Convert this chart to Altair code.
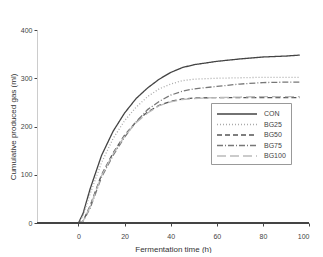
import altair as alt
import pandas as pd

hours = [0, 2, 5, 10, 15, 20, 25, 30, 35, 40, 45, 50, 60, 70, 80, 90, 96]
con   = [0, 20, 70, 140, 190, 228, 258, 280, 298, 312, 322, 328, 335, 340, 344, 346, 348]
bg25  = [0, 15, 60, 125, 175, 212, 240, 262, 278, 288, 295, 298, 300, 301, 302, 302, 302]
bg50  = [0, 4, 35, 100, 145, 182, 210, 230, 244, 252, 257, 259, 260, 260, 260, 260, 260]
bg75  = [0, 4, 30, 95, 140, 178, 210, 235, 252, 265, 273, 278, 283, 288, 291, 292, 292]
bg100 = [0, 4, 33, 98, 143, 180, 208, 228, 243, 251, 256, 258, 260, 261, 262, 262, 262]

series = ["CON", "BG25", "BG50", "BG75", "BG100"]
values = [con, bg25, bg50, bg75, bg100]

rows = []
for name, vals in zip(series, values):
    for h, v in zip(hours, vals):
        rows.append({"time": h, "gas": v, "treatment": name})
df = pd.DataFrame(rows)

colors = ["#444444", "#aaaaaa", "#555555", "#777777", "#bbbbbb"]
dashes = [[1, 0], [1, 2], [5, 3], [6, 2, 1, 2], [9, 4]]

base_zero = pd.DataFrame({"time": [-18, 100], "gas": [0, 0]})

axis_line = alt.Chart(base_zero).mark_line(color="#444444", strokeWidth=2).encode(
    x=alt.X("time:Q"), y=alt.Y("gas:Q")
)

lines = alt.Chart(df).mark_line(strokeWidth=1.3).encode(
    x=alt.X("time:Q", scale=alt.Scale(domain=[-18, 100], nice=False),
            axis=alt.Axis(title="Fermentation time (h)", values=[0, 20, 40, 60, 80, 100],
                          grid=False, domain=False, tickColor="#444444", tickSize=3,
                          labelFontSize=7, labelColor="#444444", titleFontSize=8,
                          titleFontWeight="normal", titleColor="#333333", titlePadding=6,
                          labelPadding=6)),
    y=alt.Y("gas:Q", scale=alt.Scale(domain=[0, 400], nice=False),
            axis=alt.Axis(title="Cumulative produced gas (ml)", values=[0, 100, 200, 300, 400],
                          grid=False, domainColor="#cccccc", tickColor="#444444", tickSize=3,
                          labelFontSize=7, labelColor="#444444", titleFontSize=8,
                          titleFontWeight="normal", titleColor="#333333", titlePadding=3,
                          labelPadding=2)),
    color=alt.Color("treatment:N", scale=alt.Scale(domain=series, range=colors),
                    legend=alt.Legend(title=None, orient="none", legendX=174, legendY=73,
                                      symbolType="M-1,0H7", symbolSize=100, symbolStrokeWidth=1.3,
                                      labelFontSize=7, labelColor="#444444",
                                      strokeColor="#999999", fillColor="white",
                                      padding=5, rowPadding=1.5, labelOffset=36)),
    strokeDash=alt.StrokeDash("treatment:N", scale=alt.Scale(domain=series, range=dashes)),
)

chart = alt.layer(lines, axis_line).properties(
    width=272, height=193,
    autosize=alt.AutoSizeParams(type="none"),
    padding={"left": 29, "top": 22, "right": 6, "bottom": 30},
).configure_view(stroke=None).configure_axis(labelFont="Liberation Sans", titleFont="Liberation Sans"
).configure_legend(labelFont="Liberation Sans")

chart.save("out.html", embed_options={"renderer": "svg", "actions": False})
